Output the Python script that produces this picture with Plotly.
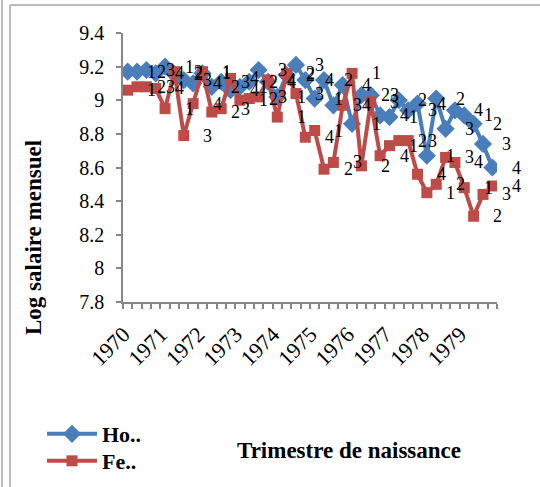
import plotly.graph_objects as go

years = ["1970", "1971", "1972", "1973", "1974", "1975", "1976", "1977", "1978", "1979"]
quarters = [1, 2, 3, 4]

hommes = [9.17, 9.17, 9.18, 9.16, 9.20, 9.155, 9.12, 9.10,
          9.16, 9.08, 9.11, 9.06, 9.08, 9.11, 9.18, 9.11,
          9.02, 9.15, 9.21, 9.12, 9.01, 9.12, 8.97, 9.09,
          8.86, 9.03, 9.03, 8.91, 8.90, 9.00, 8.94, 8.98,
          8.67, 9.01, 8.83, 8.94, 8.91, 8.86, 8.74, 8.60]
femmes = [9.06, 9.08, 9.08, 9.07, 8.95, 9.17, 8.79, 8.98,
          9.17, 8.93, 8.95, 9.13, 9.00, 9.01, 9.02, 9.12,
          8.90, 9.16, 9.04, 8.78, 8.82, 8.59, 8.63, 8.97,
          9.16, 8.61, 8.99, 8.67, 8.73, 8.76, 8.76, 8.56,
          8.45, 8.50, 8.66, 8.63, 8.48, 8.31, 8.44, 8.49]

n = len(years) * len(quarters)
x = list(range(n))
qlabels = [str(quarters[i % 4]) for i in range(n)]

W, H = 540, 487
ml, mr, mt, mb = 123, 43, 33, 185
pw, ph = W - ml - mr, H - mt - mb


def px(v):
    return (v - ml) / pw


def py(v):
    return (H - mb - v) / ph


FONT = "Liberation Serif"
BLUE = "#4A7EBB"
RED = "#BE4B48"
GREY = "#868686"

fig = go.Figure()
fig.add_trace(go.Scatter(x=x, y=hommes, mode="lines+markers", name="Ho..",
                         legend="legend",
                         line=dict(color=BLUE, width=4),
                         marker=dict(symbol="diamond", size=14, color=BLUE)))
fig.add_trace(go.Scatter(x=x, y=femmes, mode="lines+markers", name="Fe..",
                         legend="legend2",
                         line=dict(color=RED, width=4),
                         marker=dict(symbol="square", size=11, color=RED)))

annotations = []
for series in (hommes, femmes):
    for xi, yi, lab in zip(x, series, qlabels):
        annotations.append(dict(x=xi, y=yi, xref="x", yref="y", text=lab,
                                showarrow=False, xshift=24,
                                font=dict(family=FONT, size=18, color="black")))

annotations.append(dict(x=px(349), y=py(450), xref="paper", yref="paper",
                        xanchor="center", yanchor="middle",
                        text="<b>Trimestre de naissance</b>", showarrow=False,
                        font=dict(family=FONT, size=23, color="black")))
annotations.append(dict(x=px(33), y=py(238), xref="paper", yref="paper",
                        xanchor="center", yanchor="middle",
                        text="<b>Log salaire mensuel</b>", showarrow=False,
                        textangle=-90,
                        font=dict(family=FONT, size=23, color="black")))

shapes = [
    dict(type="line", xref="paper", yref="paper", x0=px(2), x1=px(2), y0=py(0), y1=py(H),
         line=dict(color="#A6A6A6", width=1.5)),
    dict(type="line", xref="paper", yref="paper", x0=px(10), x1=px(10), y0=py(5), y1=py(H),
         line=dict(color="#A6A6A6", width=1.5)),
    dict(type="line", xref="paper", yref="paper", x0=px(10), x1=px(W), y0=py(5), y1=py(5),
         line=dict(color="#A6A6A6", width=1.5)),
]

legfont = dict(family=FONT, size=22, color="black", weight="bold")
fig.update_layout(
    width=W, height=H,
    margin=dict(l=ml, r=mr, t=mt, b=mb, autoexpand=False),
    paper_bgcolor="white", plot_bgcolor="white",
    font=dict(family=FONT, size=18, color="black"),
    showlegend=True,
    legend=dict(x=px(42), y=py(434), xanchor="left", yanchor="middle",
                font=legfont, itemwidth=50, bgcolor="rgba(0,0,0,0)"),
    legend2=dict(x=px(42), y=py(461), xanchor="left", yanchor="middle",
                 font=legfont, itemwidth=50, bgcolor="rgba(0,0,0,0)"),
    annotations=annotations,
    shapes=shapes,
)
fig.update_xaxes(range=[-0.5, n - 0.5], tickmode="array",
                 tickvals=[4 * k - 0.45 for k in range(len(years))], ticktext=years,
                 tickangle=-45, ticks="", showgrid=False, zeroline=False,
                 showline=True, linecolor=GREY, linewidth=1.5,
                 tickfont=dict(family=FONT, size=22), ticklabelstandoff=9,
                 minor=dict(tick0=-0.5, dtick=1, ticks="outside", ticklen=5,
                            tickcolor=GREY, tickwidth=1.5, showgrid=False))
fig.update_yaxes(range=[7.8, 9.4], dtick=0.2, tick0=7.8, ticks="outside", ticklen=5,
                 tickcolor=GREY, tickwidth=1.5, showgrid=False, zeroline=False,
                 showline=True, linecolor=GREY, linewidth=1.5,
                 tickfont=dict(family=FONT, size=20), ticklabelstandoff=8)

fig.write_html("out.html")
